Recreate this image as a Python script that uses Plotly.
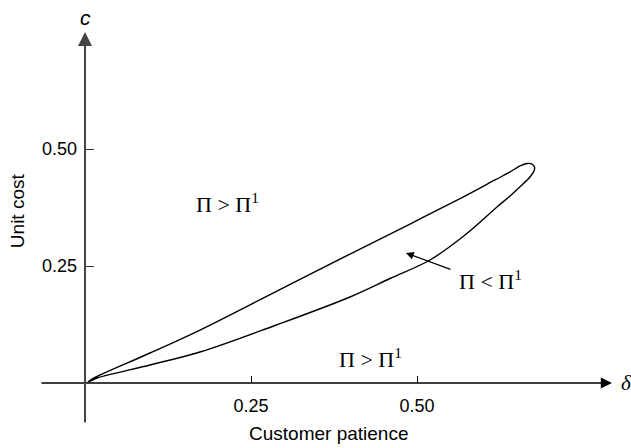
import plotly.graph_objects as go

# Loop boundary (Π = Π¹): upper branch, rounded tip, lower branch
delta_loop = [0.0045, 0.0105, 0.0979, 0.1732, 0.2861, 0.3991, 0.4895, 0.5693, 0.6175,
              0.6401, 0.6551, 0.6657, 0.6732, 0.6770, 0.6762, 0.6702, 0.6596, 0.6401,
              0.6205, 0.5723, 0.5196, 0.4593, 0.3991, 0.2861, 0.1732, 0.0979, 0.0181, 0.0045]
c_loop = [0.0021, 0.0085, 0.0641, 0.1132, 0.1944, 0.2756, 0.3397, 0.3974, 0.4338,
          0.4509, 0.4637, 0.4690, 0.4679, 0.4615, 0.4530, 0.4402, 0.4252, 0.3996,
          0.3761, 0.3162, 0.2628, 0.2233, 0.1838, 0.1229, 0.0662, 0.0385, 0.0107, 0.0021]

x_ticks = [0.25, 0.50]
x_ticklabels = ["0.25", "0.50"]
y_ticks = [0.25, 0.50]
y_ticklabels = ["0.25", "0.50"]

x_range = [-0.0678, 0.7937]
y_range = [-0.0876, 0.75]

fig = go.Figure()
fig.add_trace(go.Scatter(x=delta_loop, y=c_loop, mode="lines",
                         line=dict(color="black", width=1.4, shape="spline", smoothing=1.0),
                         hoverinfo="skip", showlegend=False))

sans = "Liberation Sans, Arial, sans-serif"
serif = "Liberation Serif, Times New Roman, serif"

fig.update_layout(
    width=631, height=448,
    margin=dict(l=40, r=19, t=32, b=24),
    paper_bgcolor="white", plot_bgcolor="white",
    showlegend=False,
    xaxis=dict(range=x_range, showgrid=False, zeroline=False, showline=False,
               tickvals=x_ticks, ticktext=x_ticklabels, ticks="inside", ticklen=7,
               tickwidth=1, tickcolor="black", anchor="free", position=(424 - 383) / 392,
               tickfont=dict(family=sans, size=18, color="black"), ticklabelstandoff=10),
    yaxis=dict(range=y_range, showgrid=False, zeroline=False, showline=False,
               tickvals=y_ticks, ticktext=y_ticklabels, ticks="inside", ticklen=8,
               tickwidth=1, tickcolor="#333", anchor="free", position=(85 - 40) / 572,
               tickfont=dict(family=sans, size=18, color="black"), ticklabelstandoff=8),
)

ann = []
# axes with arrows
ann.append(dict(x=x_range[1], y=0, ax=x_range[0], ay=0, xref="x", yref="y", axref="x", ayref="y",
                text="", showarrow=True, arrowhead=2, arrowsize=1.6, arrowwidth=1.4,
                arrowcolor="black", standoff=0))
ann.append(dict(x=0, y=y_range[1], ax=0, ay=y_range[0], xref="x", yref="y", axref="x", ayref="y",
                text="", showarrow=True, arrowhead=2, arrowsize=1.4, arrowwidth=2,
                arrowcolor="#444", standoff=0))
# pointer arrow
ann.append(dict(x=0.4834, y=0.2778, ax=0.5527, ay=0.2415, xref="x", yref="y", axref="x", ayref="y",
                text="", showarrow=True, arrowhead=2, arrowsize=1.3, arrowwidth=1.2,
                arrowcolor="black", standoff=0))
# region labels
for (xx, yy) in [(0.2139, 0.3846), (0.4307, 0.0534)]:
    ann.append(dict(x=xx, y=yy, xref="x", yref="y", text="Π > Π<sup>1</sup>", showarrow=False,
                    xanchor="center", yanchor="middle",
                    font=dict(family=serif, size=22, color="black")))
ann.append(dict(x=0.6114, y=0.2201, xref="x", yref="y", text="Π < Π<sup>1</sup>", showarrow=False,
                xanchor="center", yanchor="middle",
                font=dict(family=serif, size=22, color="black")))
# axis symbols and titles (paper coordinates, outside the plotting range)
common = dict(xref="paper", yref="paper", showarrow=False, xanchor="center", yanchor="middle")
ann.append(dict(x=0.0787, y=1.038, text="<i>c</i>",
                font=dict(family=sans, size=21, color="black"), **common))
ann.append(dict(x=1.026, y=0.1046, text="<i>δ</i>",
                font=dict(family=serif, size=21, color="black"), **common))
ann.append(dict(x=-0.0402, y=0.543, text="Unit cost", textangle=-90,
                font=dict(family=sans, size=19, color="black"), **common))
ann.append(dict(x=0.505, y=-0.023, text="Customer patience",
                font=dict(family=sans, size=19, color="black"), **common))
fig.update_layout(annotations=ann)

fig.write_html("out.html", config={"displayModeBar": False},
               post_script="document.body.style.margin='0';")
